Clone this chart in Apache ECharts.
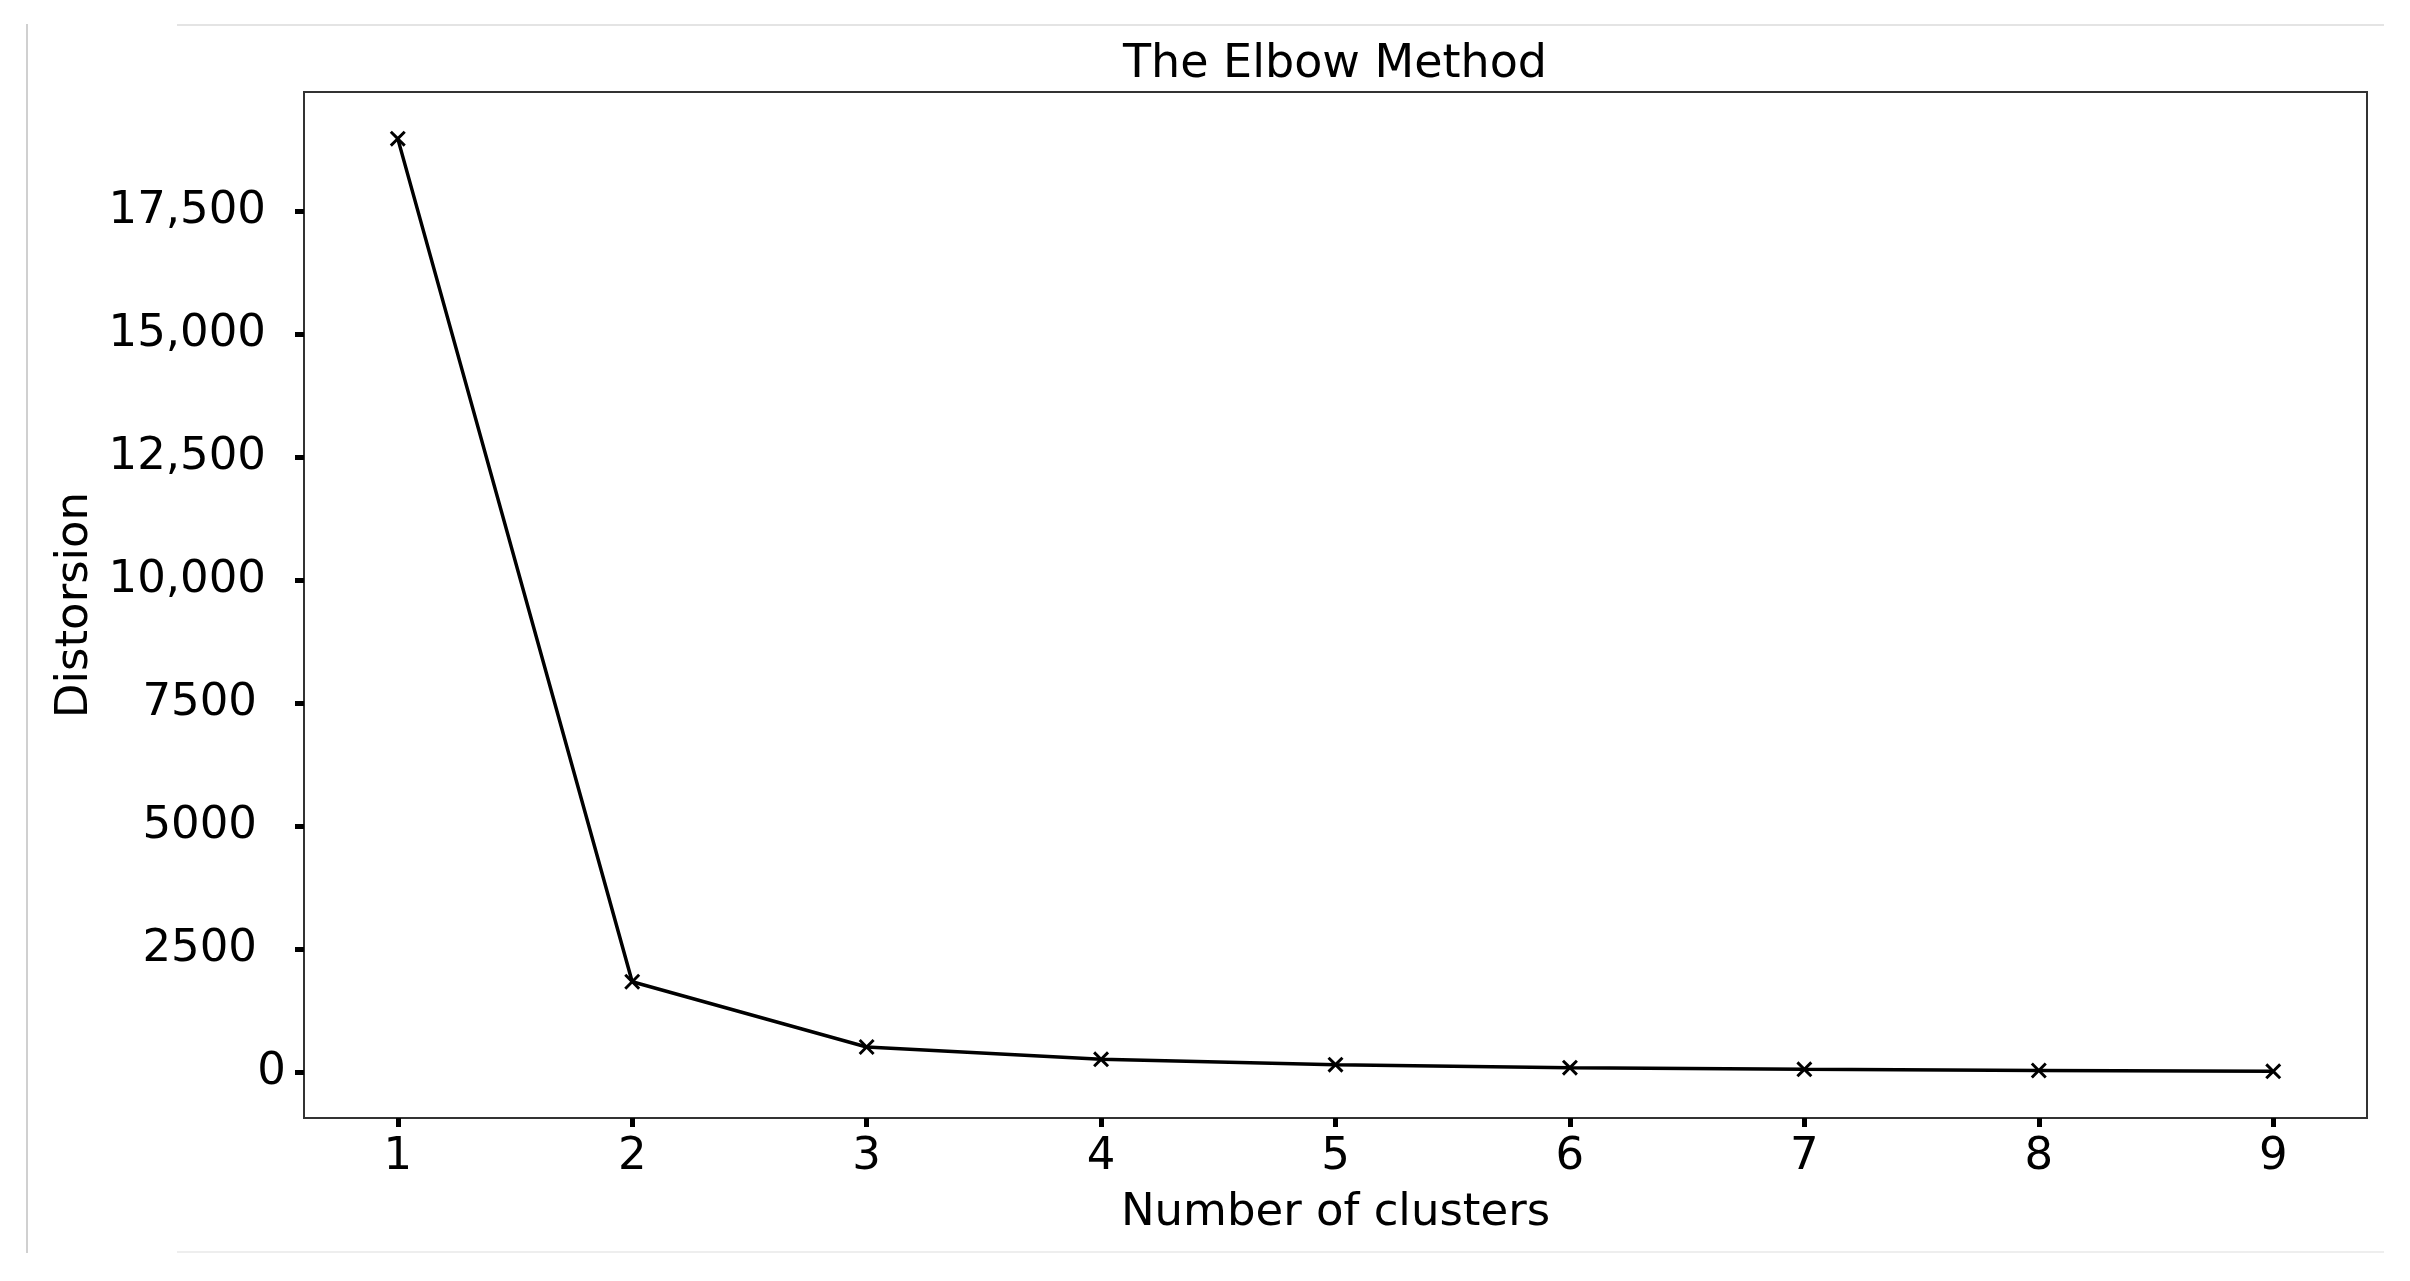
<!DOCTYPE html>
<html>
<head>
<meta charset="utf-8">
<script src="https://cdn.jsdelivr.net/npm/echarts@6/dist/echarts.min.js"></script>
<style>
html,body{margin:0;padding:0;background:#fff;}
#chart{width:2410px;height:1281px;}
</style>
</head>
<body>
<div id="chart"></div>
<script>
// ---- data ----
const clusters = [1, 2, 3, 4, 5, 6, 7, 8, 9];
const distortion = [18970, 1845, 520, 270, 162, 101, 67, 42, 26];
const yTickValues = [0, 2500, 5000, 7500, 10000, 12500, 15000, 17500];
const yTickLabels = ['0', '2500', '5000', '7500', '10,000', '12,500', '15,000', '17,500'];
const xTickValues = [1, 2, 3, 4, 5, 6, 7, 8, 9];
const titleText = 'The Elbow Method';
const xName = 'Number of clusters';
const yName = 'Distorsion';

// ---- layout / style ----
const FONT = 'DejaVu Sans';
const GRID = {left: 304, top: 92, width: 2063, height: 1026};
const xMin = 0.6, xMax = 9.4;
const yMin = -922, yMax = 19917;

const chart = echarts.init(document.getElementById('chart'), null, {renderer: 'canvas'});

const seriesData = clusters.map((c, i) => [c, distortion[i]]);
const xSymbol = 'path://M0,1.3 L1.3,0 L5,3.7 L8.7,0 L10,1.3 L6.3,5 L10,8.7 L8.7,10 L5,6.3 L1.3,10 L0,8.7 L3.7,5 Z';

function yLabelFmt(v) {
  const idx = yTickValues.indexOf(v);
  if (idx < 0) return '';
  const s = yTickLabels[idx];
  const key = s.length === 1 ? 'a' : (s.indexOf(',') >= 0 ? 'c' : 'b');
  return '{' + key + '|' + s + '}';
}

const labelRich = {
  a: {fontFamily: FONT, fontSize: 45, color: '#000', padding: [0, 0, 0, 0]},
  b: {fontFamily: FONT, fontSize: 45, color: '#000', padding: [0, 29, 0, 0]},
  c: {fontFamily: FONT, fontSize: 45, color: '#000', padding: [0, 20, 0, 0]}
};

const option = {
  animation: false,
  backgroundColor: '#ffffff',
  grid: {
    left: GRID.left, top: GRID.top, width: GRID.width, height: GRID.height,
    show: true, borderColor: '#333', borderWidth: 2, backgroundColor: '#fff'
  },
  xAxis: {
    type: 'value', min: xMin, max: xMax,
    name: xName, nameLocation: 'middle', nameGap: 73,
    nameTextStyle: {fontFamily: FONT, fontSize: 45, color: '#000'},
    axisLine: {show: true, onZero: false, lineStyle: {color: '#333', width: 2}},
    axisTick: {show: true, inside: false, length: 9, lineStyle: {color: '#000', width: 5}, customValues: xTickValues},
    axisLabel: {show: true, margin: 17, fontFamily: FONT, fontSize: 45, color: '#000', customValues: xTickValues,
      formatter: v => String(v)},
    splitLine: {show: false}
  },
  yAxis: {
    type: 'value', min: yMin, max: yMax,
    name: yName, nameLocation: 'middle', nameGap: 200, nameRotate: 90,
    nameTextStyle: {fontFamily: FONT, fontSize: 45, color: '#000'},
    axisLine: {show: true, onZero: false, lineStyle: {color: '#333', width: 2}},
    axisTick: {show: true, inside: false, length: 9, lineStyle: {color: '#000', width: 5}, customValues: yTickValues},
    axisLabel: {show: true, margin: 18, customValues: yTickValues, formatter: yLabelFmt, rich: labelRich},
    splitLine: {show: false}
  },
  series: [{
    type: 'line',
    data: seriesData,
    symbol: xSymbol,
    symbolSize: 16,
    showSymbol: true,
    lineStyle: {color: '#000', width: 3.5},
    itemStyle: {color: '#000', borderWidth: 0},
    emphasis: {disabled: true},
    z: 3
  }],
  graphic: [
    {type: 'text', x: 1335, y: 65, z: 10,
      style: {text: titleText, fontFamily: FONT, fontSize: 46, fill: '#000', textAlign: 'center', textVerticalAlign: 'middle'}},
    {type: 'line', shape: {x1: 177, y1: 25, x2: 2384, y2: 25}, style: {stroke: '#e4e4e4', lineWidth: 2}, silent: true},
    {type: 'line', shape: {x1: 177, y1: 1252, x2: 2384, y2: 1252}, style: {stroke: '#eeeeee', lineWidth: 2}, silent: true},
    {type: 'line', shape: {x1: 27, y1: 24, x2: 27, y2: 1253}, style: {stroke: '#d0d0d0', lineWidth: 2}, silent: true}
  ]
};

chart.setOption(option);
</script>
</body>
</html>
